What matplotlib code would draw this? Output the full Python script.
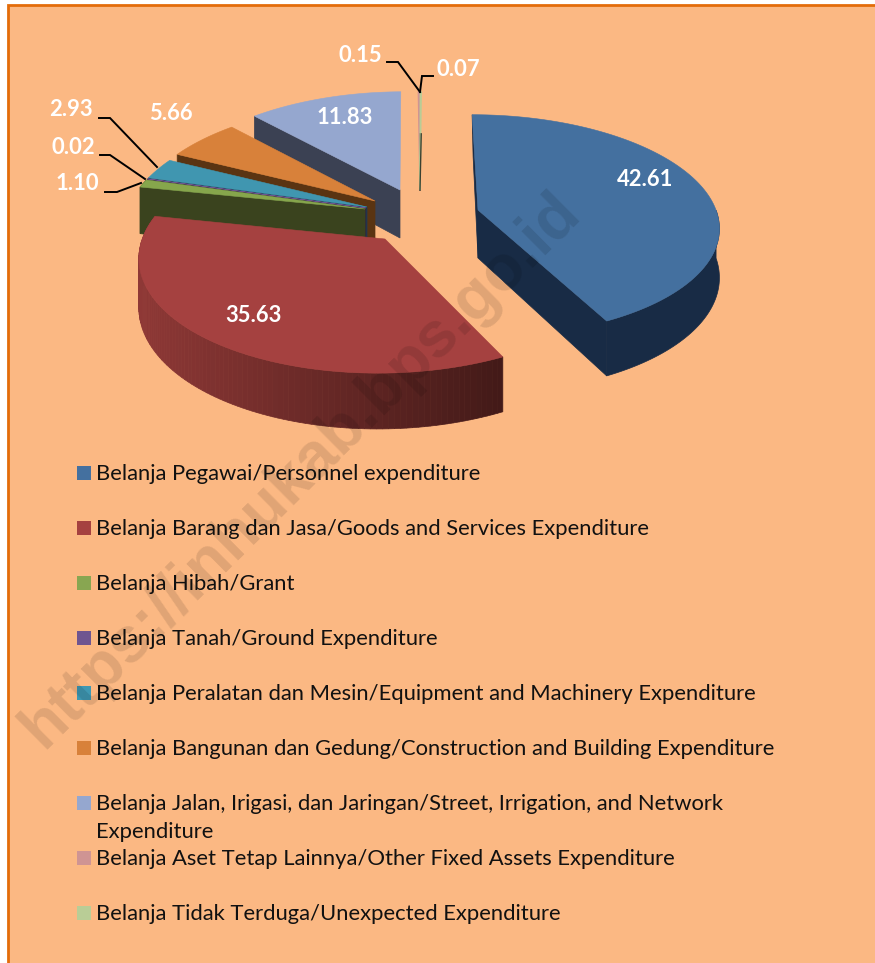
#!/usr/bin/env python3
'''
Exploded 3D pie of expenditure shares, drawn in pixel coordinates
'''

import numpy
import matplotlib
matplotlib.use('Agg')
import matplotlib.pyplot as plt
from matplotlib.patches import Polygon, Rectangle

categories = [
    'Belanja Pegawai/Personnel expenditure',
    'Belanja Barang dan Jasa/Goods and Services Expenditure',
    'Belanja Hibah/Grant',
    'Belanja Tanah/Ground Expenditure',
    'Belanja Peralatan dan Mesin/Equipment and Machinery Expenditure',
    'Belanja Bangunan dan Gedung/Construction and Building Expenditure',
    'Belanja Jalan, Irigasi, dan Jaringan/Street, Irrigation, and Network\nExpenditure',
    'Belanja Aset Tetap Lainnya/Other Fixed Assets Expenditure',
    'Belanja Tidak Terduga/Unexpected Expenditure',
]
values = [42.61, 35.63, 1.10, 0.02, 2.93, 5.66, 11.83, 0.15, 0.07]
value_labels = ['42.61', '35.63', '1.10', '0.02', '2.93', '5.66', '11.83', '0.15', '0.07']

top_colors = ['#44709f', '#a54140', '#86a64c', '#6f5590', '#4096b0', '#d8813a', '#95a7cf', '#cf9493', '#b9cd96']
wall_colors = ['#182b45', '#8e3836', '#3a431e', '#2c2340', '#1c3c55', '#5a3412', '#3b4153', '#3d3030', '#3a4030']
legend_colors = ['#44709f', '#a54140', '#88a651', '#6f5590', '#3f98b2', '#d8813a', '#95a7cf', '#cf9493', '#b9cd96']

# where each slice's tip sits after the explosion (px)
tips = [(478, 210), (385, 239), (365, 209), (366, 208), (367, 207), (375, 201), (400, 190), (420, 190), (420, 190)]
legend_y = [473, 528, 583, 638, 693, 748, 803, 858, 913]
label_xy = [(645, 180), (253, 316), (77, 184), (73, 148), (71, 110), (171, 114), (345, 117), (360, 55), (458, 69)]
leaders = {
    2: [(105, 192), (117, 192), (141, 183)],
    3: [(100, 155), (110, 155), (145, 179)],
    4: [(99, 118), (110, 118), (157, 167)],
    7: [(387, 62), (398, 62), (420, 92)],
    8: [(433, 76), (422, 76), (420, 92)],
}

VX = 430.0   # vanishing x
RX, RY, K = 238.0, 112.0, 0.14
DEPTH = 48.0
BG = '#fbb883'


def project(tip, frac, xscale=1.0, yscale=1.0):
    # frac is clockwise from 12 o'clock, as a fraction of the circle
    a = 2*numpy.pi*numpy.asarray(frac)
    u, v = numpy.sin(a), numpy.cos(a)
    w = 1 + K*v
    x = VX + (tip[0] - VX + xscale*RX*u)/w
    y = tip[1] - yscale*RY*v/w
    return x, y, DEPTH/w


def blend(c0, c1, t):
    c0 = numpy.array(matplotlib.colors.to_rgb(c0))
    c1 = numpy.array(matplotlib.colors.to_rgb(c1))
    return tuple(c0 + (c1 - c0)*t)


fig = plt.figure(figsize=(8.75, 9.63), dpi=100, facecolor='white')
ax = fig.add_axes([0, 0, 1, 1])
ax.set_xlim(0, 875)
ax.set_ylim(963, 0)
ax.axis('off')

ax.add_patch(Rectangle((8, 5), 900, 990, fc=BG, ec='#e36c0a', lw=2, zorder=0))

edges = numpy.cumsum([0] + values)/numpy.sum(values)


def radial_wall(i, frac, xs, ys, z):
    tip = tips[i]
    xe, ye, de = project(tip, frac, xs, ys)
    ax.add_patch(Polygon([tip, (xe, ye), (xe, ye + de), (tip[0], tip[1] + DEPTH)],
                         fc=wall_colors[i], ec=wall_colors[i], lw=0.5, zorder=z))


def draw_slice(i, z):
    tip = tips[i]
    xs = 1.02 if i == 1 else 1.0
    ys = {0: 0.97, 1: 1.03}.get(i, 1.0)
    f0, f1 = edges[i], edges[i+1]
    fr = numpy.linspace(f0, f1, max(int((f1 - f0)*300), 3))
    x, y, d = project(tip, fr, xs, ys)
    thin = i >= 7

    # radial walls: the blue one shows its end edge, the left hand slices their start edge
    if i == 0:
        radial_wall(i, f1, xs, ys, z)
        xa, ya, da = project(tip, f0, xs, ys)
        ax.add_patch(Polygon([tip, (xa, ya), (xa + 1, ya + da), (tip[0], tip[1] + DEPTH)],
                             fc=wall_colors[i], ec=wall_colors[i], lw=0.5, zorder=z))
    elif i >= 2 and not thin:
        radial_wall(i, f0, xs, ys, z)

    # outer rim wall, only the part facing the viewer
    if i == 1:
        for j in range(len(fr) - 1):
            # shading runs dark at the right, lighter at the left
            t = numpy.clip((x[j] - 140)/(503 - 140), 0, 1)
            col = blend('#8e3836', '#431a18', t)
            ax.add_patch(Polygon([(x[j], y[j]), (x[j+1], y[j+1]),
                                  (x[j+1], y[j+1] + d[j+1]), (x[j], y[j] + d[j])],
                                 fc=col, ec=col, lw=0.5, zorder=z))
    elif i in (0, 2):
        keep = fr >= 0.25 if i == 0 else fr >= 0
        rim = list(zip(x[keep], y[keep])) + list(zip(x[keep][::-1], (y + d)[keep][::-1]))
        ax.add_patch(Polygon(rim, fc=wall_colors[i], ec=wall_colors[i], lw=0.5, zorder=z))

    # top surface
    pts = [tip] + list(zip(x, y))
    ax.add_patch(Polygon(pts, fc=top_colors[i], ec=top_colors[i], lw=1.0 if thin else 0.4, zorder=z + 0.5))

    if thin:
        xe, ye, de = project(tip, f1)
        ax.plot([tip[0], xe], [tip[1], ye + de], color=wall_colors[i], lw=1.0, zorder=z + 0.6)


# back to front
for z, i in enumerate([6, 7, 8, 5, 4, 3, 2, 1, 0]):
    draw_slice(i, 2 + z)

for i, pts in leaders.items():
    ax.plot(*zip(*pts), color='black', lw=1.4, solid_joinstyle='miter', zorder=20)

for (x, y), lab in zip(label_xy, value_labels):
    ax.text(x, y, lab, color='white', fontsize=15.8, fontweight='bold', family='Lato',
            ha='center', va='center', zorder=21)

for y, name, col in zip(legend_y, categories, legend_colors):
    ax.add_patch(Rectangle((77, y - 7), 14, 14, fc=col, ec='none', zorder=20))
    ax.text(96, y - 9, name, color='#111111', fontsize=15.85, family='Lato', va='top', ha='left',
            linespacing=1.5, zorder=21)

ax.text(43, 750, 'https://inhukab.bps.go.id', rotation=44.8, rotation_mode='anchor',
        transform=ax.transData, ha='left', va='baseline', fontsize=46, fontweight='bold',
        family='Liberation Sans', color='black', alpha=0.11, zorder=30)

plt.savefig('out.png', dpi=100)
